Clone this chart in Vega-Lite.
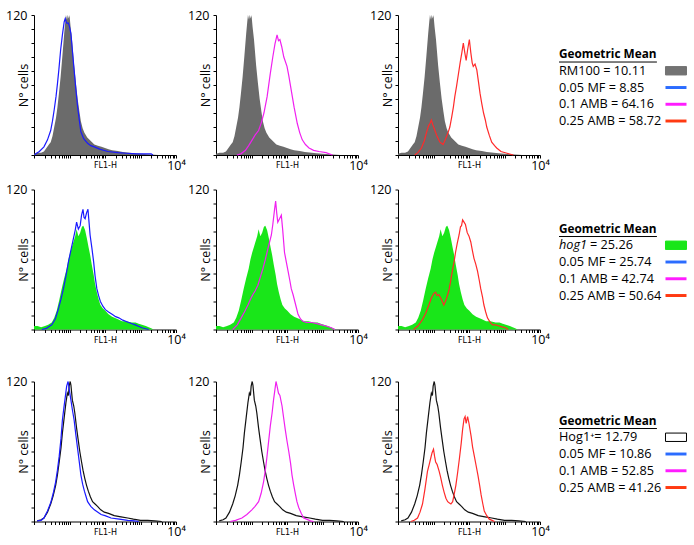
{
"$schema":"https://vega.github.io/schema/vega-lite/v6.json",
"autosize":{"type":"pad"},
"padding":{"left":5,"top":9,"right":0,"bottom":6},
"background":"white",
"config":{"view":{"stroke":null},"axis":{"grid":false,"domainColor":"#000","tickColor":"#000","labelColor":"#000","titleColor":"#000","tickSize":3,"labelFont":"Open Sans","titleFontWeight":"normal"}},
"datasets":{
"rm100":[{"lx":0,"n":1},{"lx":0.1,"n":2},{"lx":0.2,"n":2},{"lx":0.28,"n":3},{"lx":0.35,"n":6},{"lx":0.42,"n":9},{"lx":0.47,"n":11},{"lx":0.52,"n":16},{"lx":0.57,"n":24},{"lx":0.62,"n":32},{"lx":0.66,"n":41},{"lx":0.7,"n":52},{"lx":0.75,"n":67},{"lx":0.8,"n":85},{"lx":0.85,"n":104},{"lx":0.88,"n":114},{"lx":0.9,"n":120},{"lx":0.93,"n":116},{"lx":0.95,"n":120},{"lx":0.98,"n":117},{"lx":1.0,"n":120},{"lx":1.03,"n":110},{"lx":1.07,"n":99},{"lx":1.1,"n":88},{"lx":1.13,"n":77},{"lx":1.18,"n":62},{"lx":1.23,"n":48},{"lx":1.28,"n":37},{"lx":1.32,"n":29},{"lx":1.37,"n":23},{"lx":1.42,"n":19},{"lx":1.5,"n":15},{"lx":1.6,"n":12},{"lx":1.7,"n":9},{"lx":1.8,"n":8},{"lx":1.9,"n":7},{"lx":2.0,"n":6},{"lx":2.1,"n":5},{"lx":2.2,"n":4},{"lx":2.36,"n":3.5},{"lx":2.5,"n":2.5},{"lx":2.7,"n":2},{"lx":2.83,"n":1.5},{"lx":3.0,"n":1},{"lx":3.3,"n":0.5},{"lx":3.5,"n":0}],
"r1mf":[{"lx":0.02,"n":0},{"lx":0.05,"n":1},{"lx":0.15,"n":3},{"lx":0.28,"n":7},{"lx":0.38,"n":13},{"lx":0.47,"n":21},{"lx":0.52,"n":29},{"lx":0.57,"n":39},{"lx":0.62,"n":50},{"lx":0.66,"n":61},{"lx":0.7,"n":73},{"lx":0.75,"n":90},{"lx":0.8,"n":103},{"lx":0.85,"n":114},{"lx":0.88,"n":117},{"lx":0.92,"n":113},{"lx":0.97,"n":113},{"lx":1.0,"n":110},{"lx":1.04,"n":104},{"lx":1.08,"n":90},{"lx":1.13,"n":73},{"lx":1.18,"n":56},{"lx":1.23,"n":41},{"lx":1.28,"n":29},{"lx":1.32,"n":20},{"lx":1.4,"n":14},{"lx":1.51,"n":10},{"lx":1.6,"n":8},{"lx":1.7,"n":7},{"lx":1.85,"n":5},{"lx":2.08,"n":3},{"lx":2.36,"n":2},{"lx":2.6,"n":1.5},{"lx":2.9,"n":1},{"lx":3.1,"n":1},{"lx":3.3,"n":1},{"lx":3.35,"n":0}],
"r1a1":[{"lx":0.59,"n":0},{"lx":0.7,"n":1},{"lx":0.83,"n":4},{"lx":0.92,"n":8},{"lx":1.02,"n":13},{"lx":1.1,"n":17},{"lx":1.2,"n":21},{"lx":1.28,"n":28},{"lx":1.35,"n":36},{"lx":1.44,"n":50},{"lx":1.53,"n":70},{"lx":1.6,"n":84},{"lx":1.66,"n":95},{"lx":1.72,"n":103},{"lx":1.76,"n":98},{"lx":1.8,"n":99},{"lx":1.85,"n":93},{"lx":1.91,"n":84},{"lx":2.0,"n":76},{"lx":2.05,"n":68},{"lx":2.1,"n":59},{"lx":2.15,"n":50},{"lx":2.2,"n":41},{"lx":2.29,"n":27},{"lx":2.36,"n":19},{"lx":2.43,"n":13},{"lx":2.52,"n":9},{"lx":2.62,"n":6},{"lx":2.75,"n":4},{"lx":2.9,"n":3},{"lx":3.1,"n":2},{"lx":3.28,"n":0}],
"r1a25":[{"lx":0.47,"n":0},{"lx":0.56,"n":2},{"lx":0.66,"n":6},{"lx":0.74,"n":12},{"lx":0.8,"n":19},{"lx":0.86,"n":25},{"lx":0.9,"n":27},{"lx":0.94,"n":30},{"lx":0.98,"n":26},{"lx":1.04,"n":21},{"lx":1.1,"n":16},{"lx":1.18,"n":11},{"lx":1.27,"n":9},{"lx":1.33,"n":13},{"lx":1.37,"n":16},{"lx":1.42,"n":20},{"lx":1.46,"n":24},{"lx":1.51,"n":32},{"lx":1.56,"n":41},{"lx":1.6,"n":50},{"lx":1.65,"n":59},{"lx":1.7,"n":69},{"lx":1.75,"n":79},{"lx":1.8,"n":88},{"lx":1.84,"n":96},{"lx":1.88,"n":88},{"lx":1.92,"n":81},{"lx":1.96,"n":90},{"lx":2.01,"n":99},{"lx":2.05,"n":88},{"lx":2.09,"n":79},{"lx":2.12,"n":76},{"lx":2.17,"n":78},{"lx":2.22,"n":73},{"lx":2.27,"n":62},{"lx":2.31,"n":53},{"lx":2.36,"n":44},{"lx":2.41,"n":36},{"lx":2.46,"n":30},{"lx":2.5,"n":24},{"lx":2.57,"n":17},{"lx":2.64,"n":11},{"lx":2.72,"n":8},{"lx":2.78,"n":6},{"lx":2.9,"n":3},{"lx":3.07,"n":1.5},{"lx":3.25,"n":0}],
"hog1":[{"lx":0,"n":3},{"lx":0.1,"n":3},{"lx":0.2,"n":2},{"lx":0.31,"n":3},{"lx":0.4,"n":4},{"lx":0.5,"n":6},{"lx":0.57,"n":10},{"lx":0.64,"n":16},{"lx":0.71,"n":25},{"lx":0.78,"n":35},{"lx":0.85,"n":44},{"lx":0.92,"n":52},{"lx":0.97,"n":60},{"lx":1.02,"n":66},{"lx":1.07,"n":71},{"lx":1.11,"n":75},{"lx":1.16,"n":80},{"lx":1.2,"n":86},{"lx":1.25,"n":80},{"lx":1.3,"n":83},{"lx":1.35,"n":88},{"lx":1.39,"n":89},{"lx":1.44,"n":85},{"lx":1.49,"n":78},{"lx":1.54,"n":70},{"lx":1.58,"n":64},{"lx":1.63,"n":55},{"lx":1.68,"n":47},{"lx":1.72,"n":39},{"lx":1.77,"n":32},{"lx":1.82,"n":26},{"lx":1.87,"n":21},{"lx":1.94,"n":18},{"lx":2.01,"n":16},{"lx":2.1,"n":13},{"lx":2.2,"n":11},{"lx":2.35,"n":9},{"lx":2.48,"n":7},{"lx":2.6,"n":7},{"lx":2.75,"n":6},{"lx":2.86,"n":6},{"lx":2.95,"n":5},{"lx":3.04,"n":4},{"lx":3.15,"n":3},{"lx":3.23,"n":2},{"lx":3.3,"n":1},{"lx":3.37,"n":0}],
"r2mf":[{"lx":0.22,"n":0},{"lx":0.35,"n":1},{"lx":0.5,"n":4},{"lx":0.6,"n":9},{"lx":0.69,"n":18},{"lx":0.76,"n":26},{"lx":0.83,"n":35},{"lx":0.9,"n":46},{"lx":0.97,"n":58},{"lx":1.04,"n":68},{"lx":1.11,"n":78},{"lx":1.16,"n":85},{"lx":1.2,"n":92},{"lx":1.25,"n":86},{"lx":1.3,"n":89},{"lx":1.34,"n":98},{"lx":1.38,"n":103},{"lx":1.41,"n":96},{"lx":1.44,"n":95},{"lx":1.48,"n":100},{"lx":1.52,"n":103},{"lx":1.55,"n":92},{"lx":1.58,"n":81},{"lx":1.63,"n":70},{"lx":1.68,"n":58},{"lx":1.72,"n":46},{"lx":1.77,"n":35},{"lx":1.82,"n":29},{"lx":1.87,"n":24},{"lx":1.94,"n":20},{"lx":2.01,"n":17},{"lx":2.1,"n":15},{"lx":2.2,"n":13},{"lx":2.3,"n":11},{"lx":2.39,"n":10},{"lx":2.5,"n":8},{"lx":2.67,"n":6},{"lx":2.85,"n":4},{"lx":3.04,"n":1.5},{"lx":3.23,"n":0}],
"r2a1":[{"lx":0.47,"n":0},{"lx":0.6,"n":4},{"lx":0.71,"n":10},{"lx":0.8,"n":15},{"lx":0.9,"n":21},{"lx":0.97,"n":26},{"lx":1.04,"n":30},{"lx":1.1,"n":33},{"lx":1.18,"n":38},{"lx":1.25,"n":45},{"lx":1.32,"n":52},{"lx":1.39,"n":60},{"lx":1.46,"n":69},{"lx":1.51,"n":75},{"lx":1.56,"n":81},{"lx":1.6,"n":90},{"lx":1.65,"n":103},{"lx":1.68,"n":110},{"lx":1.71,"n":100},{"lx":1.74,"n":92},{"lx":1.79,"n":95},{"lx":1.84,"n":98},{"lx":1.88,"n":85},{"lx":1.93,"n":66},{"lx":1.98,"n":58},{"lx":2.03,"n":50},{"lx":2.08,"n":42},{"lx":2.12,"n":35},{"lx":2.17,"n":30},{"lx":2.22,"n":24},{"lx":2.27,"n":18},{"lx":2.31,"n":13},{"lx":2.38,"n":9},{"lx":2.45,"n":7},{"lx":2.55,"n":6},{"lx":2.69,"n":6},{"lx":2.85,"n":5},{"lx":2.97,"n":4},{"lx":3.1,"n":3},{"lx":3.25,"n":1.5},{"lx":3.35,"n":0}],
"r2a25":[{"lx":0.44,"n":0},{"lx":0.56,"n":3},{"lx":0.68,"n":8},{"lx":0.78,"n":14},{"lx":0.87,"n":21},{"lx":0.94,"n":27},{"lx":1.01,"n":31},{"lx":1.06,"n":32},{"lx":1.1,"n":29},{"lx":1.15,"n":30},{"lx":1.22,"n":26},{"lx":1.29,"n":21},{"lx":1.35,"n":25},{"lx":1.43,"n":33},{"lx":1.48,"n":41},{"lx":1.53,"n":50},{"lx":1.58,"n":58},{"lx":1.62,"n":66},{"lx":1.67,"n":74},{"lx":1.72,"n":81},{"lx":1.76,"n":88},{"lx":1.79,"n":89},{"lx":1.82,"n":94},{"lx":1.86,"n":92},{"lx":1.9,"n":90},{"lx":1.95,"n":83},{"lx":2.0,"n":80},{"lx":2.05,"n":75},{"lx":2.1,"n":67},{"lx":2.14,"n":61},{"lx":2.19,"n":56},{"lx":2.24,"n":50},{"lx":2.29,"n":42},{"lx":2.33,"n":35},{"lx":2.38,"n":28},{"lx":2.42,"n":21},{"lx":2.47,"n":15},{"lx":2.52,"n":10},{"lx":2.58,"n":7},{"lx":2.66,"n":4},{"lx":2.75,"n":4},{"lx":2.85,"n":3},{"lx":2.95,"n":2},{"lx":3.03,"n":1.5},{"lx":3.1,"n":0}],
"hog1p":[{"lx":0.09,"n":0.5},{"lx":0.2,"n":1.5},{"lx":0.28,"n":3},{"lx":0.38,"n":8},{"lx":0.47,"n":15},{"lx":0.54,"n":22},{"lx":0.61,"n":31},{"lx":0.66,"n":40},{"lx":0.71,"n":51},{"lx":0.76,"n":63},{"lx":0.8,"n":76},{"lx":0.85,"n":89},{"lx":0.9,"n":102},{"lx":0.94,"n":110},{"lx":0.97,"n":108},{"lx":0.99,"n":116},{"lx":1.02,"n":120},{"lx":1.04,"n":117},{"lx":1.08,"n":104},{"lx":1.12,"n":99},{"lx":1.15,"n":93},{"lx":1.2,"n":80},{"lx":1.24,"n":71},{"lx":1.29,"n":60},{"lx":1.34,"n":51},{"lx":1.38,"n":44},{"lx":1.43,"n":37},{"lx":1.48,"n":31},{"lx":1.53,"n":26},{"lx":1.59,"n":21},{"lx":1.65,"n":17},{"lx":1.72,"n":15},{"lx":1.79,"n":13},{"lx":1.88,"n":10},{"lx":1.98,"n":8},{"lx":2.1,"n":7},{"lx":2.26,"n":5},{"lx":2.45,"n":4},{"lx":2.64,"n":3},{"lx":2.8,"n":2},{"lx":3.0,"n":1},{"lx":3.2,"n":1},{"lx":3.4,"n":0.5},{"lx":3.6,"n":0}],
"r3mf":[{"lx":0.09,"n":0.5},{"lx":0.2,"n":1},{"lx":0.28,"n":3},{"lx":0.38,"n":9},{"lx":0.47,"n":16},{"lx":0.54,"n":24},{"lx":0.61,"n":34},{"lx":0.66,"n":44},{"lx":0.71,"n":56},{"lx":0.76,"n":71},{"lx":0.8,"n":87},{"lx":0.84,"n":97},{"lx":0.87,"n":104},{"lx":0.92,"n":116},{"lx":0.96,"n":120},{"lx":1.0,"n":112},{"lx":1.04,"n":104},{"lx":1.08,"n":96},{"lx":1.13,"n":87},{"lx":1.18,"n":74},{"lx":1.23,"n":62},{"lx":1.28,"n":50},{"lx":1.32,"n":40},{"lx":1.37,"n":32},{"lx":1.42,"n":26},{"lx":1.47,"n":21},{"lx":1.51,"n":17},{"lx":1.6,"n":13},{"lx":1.7,"n":10},{"lx":1.8,"n":8},{"lx":1.89,"n":6},{"lx":2.0,"n":5},{"lx":2.17,"n":3},{"lx":2.4,"n":2},{"lx":2.64,"n":1},{"lx":2.83,"n":0.5},{"lx":2.95,"n":0}],
"r3a1":[{"lx":0.4,"n":0},{"lx":0.55,"n":1},{"lx":0.73,"n":3},{"lx":0.87,"n":6},{"lx":1.01,"n":10},{"lx":1.1,"n":13},{"lx":1.2,"n":17},{"lx":1.27,"n":24},{"lx":1.34,"n":34},{"lx":1.39,"n":44},{"lx":1.43,"n":54},{"lx":1.48,"n":68},{"lx":1.53,"n":82},{"lx":1.58,"n":93},{"lx":1.62,"n":104},{"lx":1.66,"n":113},{"lx":1.69,"n":120},{"lx":1.72,"n":116},{"lx":1.76,"n":110},{"lx":1.8,"n":108},{"lx":1.86,"n":99},{"lx":1.9,"n":90},{"lx":1.95,"n":79},{"lx":2.0,"n":69},{"lx":2.05,"n":60},{"lx":2.1,"n":50},{"lx":2.14,"n":40},{"lx":2.19,"n":31},{"lx":2.24,"n":23},{"lx":2.28,"n":17},{"lx":2.33,"n":12},{"lx":2.4,"n":7},{"lx":2.47,"n":3},{"lx":2.55,"n":2},{"lx":2.66,"n":0.5},{"lx":2.75,"n":0}],
"r3a25":[{"lx":0.36,"n":0},{"lx":0.46,"n":1},{"lx":0.55,"n":3},{"lx":0.62,"n":8},{"lx":0.69,"n":15},{"lx":0.76,"n":28},{"lx":0.83,"n":43},{"lx":0.88,"n":49},{"lx":0.92,"n":54},{"lx":0.96,"n":59},{"lx":1.0,"n":62},{"lx":1.03,"n":56},{"lx":1.06,"n":51},{"lx":1.1,"n":49},{"lx":1.16,"n":43},{"lx":1.2,"n":38},{"lx":1.25,"n":31},{"lx":1.3,"n":25},{"lx":1.35,"n":20},{"lx":1.4,"n":17},{"lx":1.44,"n":16},{"lx":1.49,"n":15},{"lx":1.54,"n":17},{"lx":1.58,"n":23},{"lx":1.63,"n":31},{"lx":1.68,"n":42},{"lx":1.73,"n":54},{"lx":1.78,"n":67},{"lx":1.82,"n":79},{"lx":1.86,"n":88},{"lx":1.89,"n":90},{"lx":1.92,"n":84},{"lx":1.96,"n":90},{"lx":2.0,"n":84},{"lx":2.06,"n":73},{"lx":2.1,"n":64},{"lx":2.15,"n":56},{"lx":2.2,"n":48},{"lx":2.25,"n":40},{"lx":2.3,"n":31},{"lx":2.34,"n":23},{"lx":2.39,"n":15},{"lx":2.43,"n":9},{"lx":2.5,"n":5},{"lx":2.57,"n":2},{"lx":2.65,"n":1},{"lx":2.72,"n":0}],
"legend":[
{"row":1,"i":0,"kind":"title","label":"Geometric Mean"},
{"row":1,"i":1,"kind":"item","label":"RM100 = 10.11","series":"RM100","role":"reference"},
{"row":1,"i":2,"kind":"item","label":"0.05 MF = 8.85","series":"0.05 MF","role":"treatment"},
{"row":1,"i":3,"kind":"item","label":"0.1 AMB = 64.16","series":"0.1 AMB","role":"treatment"},
{"row":1,"i":4,"kind":"item","label":"0.25 AMB = 58.72","series":"0.25 AMB","role":"treatment"},
{"row":2,"i":0,"kind":"title","label":"Geometric Mean"},
{"row":2,"i":1,"kind":"italic","label":"hog1","series":"hog1","role":"reference"},
{"row":2,"i":1,"kind":"tail","label":"= 25.26"},
{"row":2,"i":2,"kind":"item","label":"0.05 MF = 25.74","series":"0.05 MF","role":"treatment"},
{"row":2,"i":3,"kind":"item","label":"0.1 AMB = 42.74","series":"0.1 AMB","role":"treatment"},
{"row":2,"i":4,"kind":"item","label":"0.25 AMB = 50.64","series":"0.25 AMB","role":"treatment"},
{"row":3,"i":0,"kind":"title","label":"Geometric Mean"},
{"row":3,"i":1,"kind":"item","label":"Hog1⁺= 12.79","series":"Hog1+","role":"reference"},
{"row":3,"i":2,"kind":"item","label":"0.05 MF = 10.86","series":"0.05 MF","role":"treatment"},
{"row":3,"i":3,"kind":"item","label":"0.1 AMB = 52.85","series":"0.1 AMB","role":"treatment"},
{"row":3,"i":4,"kind":"item","label":"0.25 AMB = 41.26","series":"0.25 AMB","role":"treatment"}
]},
"vconcat":[
{"hconcat":[
 {"hconcat":[
  {"width":142,"height":140,"layer":[
   {"data":{"name":"rm100"},"mark":{"type":"area","color":"#6b6b6b","opacity":1},"encoding":{"x":{"field":"lx","type":"quantitative","title":"FL1-H","scale":{"domain":[0,4],"nice":false,"zero":false},"axis":{"values":[0,0.301,0.477,0.602,0.699,0.778,0.845,0.903,0.954,1,1.301,1.477,1.602,1.699,1.778,1.845,1.903,1.954,2,2.301,2.477,2.602,2.699,2.778,2.845,2.903,2.954,3,3.301,3.477,3.602,3.699,3.778,3.845,3.903,3.954,4],"tickCount":40,"labelExpr":"datum.value == 4 ? '10⁴' : ''","labelBound":false,"labelOverlap":false,"labelFlush":false,"labelFontSize":12.5,"labelPadding":1,"titleFont":"DejaVu Sans","titleFontSize":8,"titleY":12.5,"titleBaseline":"alphabetic"}},"y":{"field":"n","type":"quantitative","title":"N° cells","scale":{"domain":[0,120],"nice":false},"axis":{"values":[0,12,24,36,48,60,72,84,96,108,120],"tickCount":12,"labelExpr":"datum.value == 120 ? '120' : ''","labelBound":false,"labelOverlap":false,"labelFlush":false,"labelFontSize":12.5,"labelPadding":4,"titleFont":"Open Sans","titleFontSize":12.5,"titleX":-7,"titleY":70,"titleAngle":-90,"titleBaseline":"alphabetic","titleAlign":"center"}}}},
   {"data":{"name":"r1mf"},"mark":{"type":"line","color":"#1a1aff","strokeWidth":1.2},"encoding":{"x":{"field":"lx","type":"quantitative","title":"FL1-H"},"y":{"field":"n","type":"quantitative","title":"N° cells"}}}
  ]},
  {"width":142,"height":140,"layer":[
   {"data":{"name":"rm100"},"mark":{"type":"area","color":"#6b6b6b","opacity":1},"encoding":{"x":{"field":"lx","type":"quantitative","title":"FL1-H","scale":{"domain":[0,4],"nice":false,"zero":false},"axis":{"values":[0,0.301,0.477,0.602,0.699,0.778,0.845,0.903,0.954,1,1.301,1.477,1.602,1.699,1.778,1.845,1.903,1.954,2,2.301,2.477,2.602,2.699,2.778,2.845,2.903,2.954,3,3.301,3.477,3.602,3.699,3.778,3.845,3.903,3.954,4],"tickCount":40,"labelExpr":"datum.value == 4 ? '10⁴' : ''","labelBound":false,"labelOverlap":false,"labelFlush":false,"labelFontSize":12.5,"labelPadding":1,"titleFont":"DejaVu Sans","titleFontSize":8,"titleY":12.5,"titleBaseline":"alphabetic"}},"y":{"field":"n","type":"quantitative","title":"N° cells","scale":{"domain":[0,120],"nice":false},"axis":{"values":[0,12,24,36,48,60,72,84,96,108,120],"tickCount":12,"labelExpr":"datum.value == 120 ? '120' : ''","labelBound":false,"labelOverlap":false,"labelFlush":false,"labelFontSize":12.5,"labelPadding":4,"titleFont":"Open Sans","titleFontSize":12.5,"titleX":-7,"titleY":70,"titleAngle":-90,"titleBaseline":"alphabetic","titleAlign":"center"}}}},
   {"data":{"name":"r1a1"},"mark":{"type":"line","color":"#f020f0","strokeWidth":1.2},"encoding":{"x":{"field":"lx","type":"quantitative","title":"FL1-H"},"y":{"field":"n","type":"quantitative","title":"N° cells"}}}
  ]},
  {"width":142,"height":140,"layer":[
   {"data":{"name":"rm100"},"mark":{"type":"area","color":"#6b6b6b","opacity":1},"encoding":{"x":{"field":"lx","type":"quantitative","title":"FL1-H","scale":{"domain":[0,4],"nice":false,"zero":false},"axis":{"values":[0,0.301,0.477,0.602,0.699,0.778,0.845,0.903,0.954,1,1.301,1.477,1.602,1.699,1.778,1.845,1.903,1.954,2,2.301,2.477,2.602,2.699,2.778,2.845,2.903,2.954,3,3.301,3.477,3.602,3.699,3.778,3.845,3.903,3.954,4],"tickCount":40,"labelExpr":"datum.value == 4 ? '10⁴' : ''","labelBound":false,"labelOverlap":false,"labelFlush":false,"labelFontSize":12.5,"labelPadding":1,"titleFont":"DejaVu Sans","titleFontSize":8,"titleY":12.5,"titleBaseline":"alphabetic"}},"y":{"field":"n","type":"quantitative","title":"N° cells","scale":{"domain":[0,120],"nice":false},"axis":{"values":[0,12,24,36,48,60,72,84,96,108,120],"tickCount":12,"labelExpr":"datum.value == 120 ? '120' : ''","labelBound":false,"labelOverlap":false,"labelFlush":false,"labelFontSize":12.5,"labelPadding":4,"titleFont":"Open Sans","titleFontSize":12.5,"titleX":-7,"titleY":70,"titleAngle":-90,"titleBaseline":"alphabetic","titleAlign":"center"}}}},
   {"data":{"name":"r1a25"},"mark":{"type":"line","color":"#ff2a2a","strokeWidth":1.2},"encoding":{"x":{"field":"lx","type":"quantitative","title":"FL1-H"},"y":{"field":"n","type":"quantitative","title":"N° cells"}}}
  ]}
 ],"spacing":40,"bounds":"flush"},
 {"width":128,"height":140,"data":{"name":"legend"},"transform":[{"filter":"datum.row == 1"}],
  "encoding":{"y":{"field":"i","type":"quantitative","scale":{"domain":[-2.33,6.03],"reverse":true,"nice":false,"zero":false},"axis":null}},
  "layer":[
   {"transform":[{"filter":"datum.kind == 'title'"}],"mark":{"type":"text","align":"left","baseline":"middle","font":"Open Sans","fontSize":11.8,"fontWeight":"bold","color":"#000"},"encoding":{"x":{"datum":0,"type":"quantitative","scale":{"domain":[0,1],"nice":false,"zero":false},"axis":null},"text":{"field":"label"}}},
   {"transform":[{"filter":"datum.kind == 'title'"}],"mark":{"type":"rule","color":"#000","strokeWidth":1,"yOffset":8},"encoding":{"x":{"datum":0},"x2":{"datum":0.765}}},
   {"transform":[{"filter":"datum.kind == 'item'"}],"mark":{"type":"text","align":"left","baseline":"middle","font":"Open Sans","fontSize":12.7,"color":"#000"},"encoding":{"x":{"datum":0},"text":{"field":"label"}}},
   {"transform":[{"filter":"datum.role == 'reference'"}],"mark":{"type":"point","shape":"M-1,-0.4H1V0.4H-1Z","size":441,"filled":true,"opacity":1,"strokeWidth":1},"encoding":{"x":{"datum":0.914},"fill":{"field":"series","type":"nominal","scale":{"domain":["RM100","hog1","Hog1+","0.05 MF","0.1 AMB","0.25 AMB"],"range":["#737373","#19e619","#ffffff","#2b6cff","#ff1cff","#ff3a12"]},"legend":null},"stroke":{"field":"series","type":"nominal","scale":{"domain":["RM100","hog1","Hog1+","0.05 MF","0.1 AMB","0.25 AMB"],"range":["#737373","#19e619","#000000","#2b6cff","#ff1cff","#ff3a12"]},"legend":null}}},
   {"transform":[{"filter":"datum.role == 'treatment'"}],"mark":{"type":"point","shape":"M-1,-0.14H1V0.14H-1Z","size":441,"filled":true,"opacity":1,"strokeWidth":0},"encoding":{"x":{"datum":0.914},"fill":{"field":"series","type":"nominal","legend":null}}}
  ]}
],"spacing":8},
{"vconcat":[
{"hconcat":[
 {"hconcat":[
  {"width":142,"height":140,"layer":[
   {"data":{"name":"hog1"},"mark":{"type":"area","color":"#19e619","opacity":1},"encoding":{"x":{"field":"lx","type":"quantitative","title":"FL1-H","scale":{"domain":[0,4],"nice":false,"zero":false},"axis":{"values":[0,0.301,0.477,0.602,0.699,0.778,0.845,0.903,0.954,1,1.301,1.477,1.602,1.699,1.778,1.845,1.903,1.954,2,2.301,2.477,2.602,2.699,2.778,2.845,2.903,2.954,3,3.301,3.477,3.602,3.699,3.778,3.845,3.903,3.954,4],"tickCount":40,"labelExpr":"datum.value == 4 ? '10⁴' : ''","labelBound":false,"labelOverlap":false,"labelFlush":false,"labelFontSize":12.5,"labelPadding":1,"titleFont":"DejaVu Sans","titleFontSize":8,"titleY":12.5,"titleBaseline":"alphabetic"}},"y":{"field":"n","type":"quantitative","title":"N° cells","scale":{"domain":[0,120],"nice":false},"axis":{"values":[0,12,24,36,48,60,72,84,96,108,120],"tickCount":12,"labelExpr":"datum.value == 120 ? '120' : ''","labelBound":false,"labelOverlap":false,"labelFlush":false,"labelFontSize":12.5,"labelPadding":4,"titleFont":"Open Sans","titleFontSize":12.5,"titleX":-7,"titleY":70,"titleAngle":-90,"titleBaseline":"alphabetic","titleAlign":"center"}}}},
   {"data":{"name":"r2mf"},"mark":{"type":"line","color":"#1a1aff","strokeWidth":1.2},"encoding":{"x":{"field":"lx","type":"quantitative","title":"FL1-H"},"y":{"field":"n","type":"quantitative","title":"N° cells"}}}
  ]},
  {"width":142,"height":140,"layer":[
   {"data":{"name":"hog1"},"mark":{"type":"area","color":"#19e619","opacity":1},"encoding":{"x":{"field":"lx","type":"quantitative","title":"FL1-H","scale":{"domain":[0,4],"nice":false,"zero":false},"axis":{"values":[0,0.301,0.477,0.602,0.699,0.778,0.845,0.903,0.954,1,1.301,1.477,1.602,1.699,1.778,1.845,1.903,1.954,2,2.301,2.477,2.602,2.699,2.778,2.845,2.903,2.954,3,3.301,3.477,3.602,3.699,3.778,3.845,3.903,3.954,4],"tickCount":40,"labelExpr":"datum.value == 4 ? '10⁴' : ''","labelBound":false,"labelOverlap":false,"labelFlush":false,"labelFontSize":12.5,"labelPadding":1,"titleFont":"DejaVu Sans","titleFontSize":8,"titleY":12.5,"titleBaseline":"alphabetic"}},"y":{"field":"n","type":"quantitative","title":"N° cells","scale":{"domain":[0,120],"nice":false},"axis":{"values":[0,12,24,36,48,60,72,84,96,108,120],"tickCount":12,"labelExpr":"datum.value == 120 ? '120' : ''","labelBound":false,"labelOverlap":false,"labelFlush":false,"labelFontSize":12.5,"labelPadding":4,"titleFont":"Open Sans","titleFontSize":12.5,"titleX":-7,"titleY":70,"titleAngle":-90,"titleBaseline":"alphabetic","titleAlign":"center"}}}},
   {"data":{"name":"r2a1"},"mark":{"type":"line","color":"#f020f0","strokeWidth":1.2},"encoding":{"x":{"field":"lx","type":"quantitative","title":"FL1-H"},"y":{"field":"n","type":"quantitative","title":"N° cells"}}}
  ]},
  {"width":142,"height":140,"layer":[
   {"data":{"name":"hog1"},"mark":{"type":"area","color":"#19e619","opacity":1},"encoding":{"x":{"field":"lx","type":"quantitative","title":"FL1-H","scale":{"domain":[0,4],"nice":false,"zero":false},"axis":{"values":[0,0.301,0.477,0.602,0.699,0.778,0.845,0.903,0.954,1,1.301,1.477,1.602,1.699,1.778,1.845,1.903,1.954,2,2.301,2.477,2.602,2.699,2.778,2.845,2.903,2.954,3,3.301,3.477,3.602,3.699,3.778,3.845,3.903,3.954,4],"tickCount":40,"labelExpr":"datum.value == 4 ? '10⁴' : ''","labelBound":false,"labelOverlap":false,"labelFlush":false,"labelFontSize":12.5,"labelPadding":1,"titleFont":"DejaVu Sans","titleFontSize":8,"titleY":12.5,"titleBaseline":"alphabetic"}},"y":{"field":"n","type":"quantitative","title":"N° cells","scale":{"domain":[0,120],"nice":false},"axis":{"values":[0,12,24,36,48,60,72,84,96,108,120],"tickCount":12,"labelExpr":"datum.value == 120 ? '120' : ''","labelBound":false,"labelOverlap":false,"labelFlush":false,"labelFontSize":12.5,"labelPadding":4,"titleFont":"Open Sans","titleFontSize":12.5,"titleX":-7,"titleY":70,"titleAngle":-90,"titleBaseline":"alphabetic","titleAlign":"center"}}}},
   {"data":{"name":"r2a25"},"mark":{"type":"line","color":"#ff2a2a","strokeWidth":1.2},"encoding":{"x":{"field":"lx","type":"quantitative","title":"FL1-H"},"y":{"field":"n","type":"quantitative","title":"N° cells"}}}
  ]}
 ],"spacing":40,"bounds":"flush"},
 {"width":128,"height":140,"data":{"name":"legend"},"transform":[{"filter":"datum.row == 2"}],
  "encoding":{"y":{"field":"i","type":"quantitative","scale":{"domain":[-2.33,6.03],"reverse":true,"nice":false,"zero":false},"axis":null}},
  "layer":[
   {"transform":[{"filter":"datum.kind == 'title'"}],"mark":{"type":"text","align":"left","baseline":"middle","font":"Open Sans","fontSize":11.8,"fontWeight":"bold","color":"#000"},"encoding":{"x":{"datum":0,"type":"quantitative","scale":{"domain":[0,1],"nice":false,"zero":false},"axis":null},"text":{"field":"label"}}},
   {"transform":[{"filter":"datum.kind == 'title'"}],"mark":{"type":"rule","color":"#000","strokeWidth":1,"yOffset":8},"encoding":{"x":{"datum":0},"x2":{"datum":0.765}}},
   {"transform":[{"filter":"datum.kind == 'item'"}],"mark":{"type":"text","align":"left","baseline":"middle","font":"Open Sans","fontSize":12.7,"color":"#000"},"encoding":{"x":{"datum":0},"text":{"field":"label"}}},
   {"transform":[{"filter":"datum.kind == 'italic'"}],"mark":{"type":"text","align":"left","baseline":"middle","font":"Open Sans","fontSize":12.7,"fontStyle":"italic","color":"#000"},"encoding":{"x":{"datum":0},"text":{"field":"label"}}},
   {"transform":[{"filter":"datum.kind == 'tail'"}],"mark":{"type":"text","align":"left","baseline":"middle","font":"Open Sans","fontSize":12.7,"color":"#000","dx":31},"encoding":{"x":{"datum":0},"text":{"field":"label"}}},
   {"transform":[{"filter":"datum.role == 'reference'"}],"mark":{"type":"point","shape":"M-1,-0.4H1V0.4H-1Z","size":441,"filled":true,"opacity":1,"strokeWidth":1},"encoding":{"x":{"datum":0.914},"fill":{"field":"series","type":"nominal","legend":null},"stroke":{"field":"series","type":"nominal","legend":null}}},
   {"transform":[{"filter":"datum.role == 'treatment'"}],"mark":{"type":"point","shape":"M-1,-0.14H1V0.14H-1Z","size":441,"filled":true,"opacity":1,"strokeWidth":0},"encoding":{"x":{"datum":0.914},"fill":{"field":"series","type":"nominal","legend":null}}}
  ]}
],"spacing":8},
{"hconcat":[
 {"hconcat":[
  {"width":142,"height":140,"layer":[
   {"data":{"name":"hog1p"},"mark":{"type":"line","color":"#111111","strokeWidth":1.2},"encoding":{"x":{"field":"lx","type":"quantitative","title":"FL1-H","scale":{"domain":[0,4],"nice":false,"zero":false},"axis":{"values":[0,0.301,0.477,0.602,0.699,0.778,0.845,0.903,0.954,1,1.301,1.477,1.602,1.699,1.778,1.845,1.903,1.954,2,2.301,2.477,2.602,2.699,2.778,2.845,2.903,2.954,3,3.301,3.477,3.602,3.699,3.778,3.845,3.903,3.954,4],"tickCount":40,"labelExpr":"datum.value == 4 ? '10⁴' : ''","labelBound":false,"labelOverlap":false,"labelFlush":false,"labelFontSize":12.5,"labelPadding":1,"titleFont":"DejaVu Sans","titleFontSize":8,"titleY":12.5,"titleBaseline":"alphabetic"}},"y":{"field":"n","type":"quantitative","title":"N° cells","scale":{"domain":[0,120],"nice":false},"axis":{"values":[0,12,24,36,48,60,72,84,96,108,120],"tickCount":12,"labelExpr":"datum.value == 120 ? '120' : ''","labelBound":false,"labelOverlap":false,"labelFlush":false,"labelFontSize":12.5,"labelPadding":4,"titleFont":"Open Sans","titleFontSize":12.5,"titleX":-7,"titleY":70,"titleAngle":-90,"titleBaseline":"alphabetic","titleAlign":"center"}}}},
   {"data":{"name":"r3mf"},"mark":{"type":"line","color":"#1a1aff","strokeWidth":1.2},"encoding":{"x":{"field":"lx","type":"quantitative","title":"FL1-H"},"y":{"field":"n","type":"quantitative","title":"N° cells"}}}
  ]},
  {"width":142,"height":140,"layer":[
   {"data":{"name":"hog1p"},"mark":{"type":"line","color":"#111111","strokeWidth":1.2},"encoding":{"x":{"field":"lx","type":"quantitative","title":"FL1-H","scale":{"domain":[0,4],"nice":false,"zero":false},"axis":{"values":[0,0.301,0.477,0.602,0.699,0.778,0.845,0.903,0.954,1,1.301,1.477,1.602,1.699,1.778,1.845,1.903,1.954,2,2.301,2.477,2.602,2.699,2.778,2.845,2.903,2.954,3,3.301,3.477,3.602,3.699,3.778,3.845,3.903,3.954,4],"tickCount":40,"labelExpr":"datum.value == 4 ? '10⁴' : ''","labelBound":false,"labelOverlap":false,"labelFlush":false,"labelFontSize":12.5,"labelPadding":1,"titleFont":"DejaVu Sans","titleFontSize":8,"titleY":12.5,"titleBaseline":"alphabetic"}},"y":{"field":"n","type":"quantitative","title":"N° cells","scale":{"domain":[0,120],"nice":false},"axis":{"values":[0,12,24,36,48,60,72,84,96,108,120],"tickCount":12,"labelExpr":"datum.value == 120 ? '120' : ''","labelBound":false,"labelOverlap":false,"labelFlush":false,"labelFontSize":12.5,"labelPadding":4,"titleFont":"Open Sans","titleFontSize":12.5,"titleX":-7,"titleY":70,"titleAngle":-90,"titleBaseline":"alphabetic","titleAlign":"center"}}}},
   {"data":{"name":"r3a1"},"mark":{"type":"line","color":"#f020f0","strokeWidth":1.2},"encoding":{"x":{"field":"lx","type":"quantitative","title":"FL1-H"},"y":{"field":"n","type":"quantitative","title":"N° cells"}}}
  ]},
  {"width":142,"height":140,"layer":[
   {"data":{"name":"hog1p"},"mark":{"type":"line","color":"#111111","strokeWidth":1.2},"encoding":{"x":{"field":"lx","type":"quantitative","title":"FL1-H","scale":{"domain":[0,4],"nice":false,"zero":false},"axis":{"values":[0,0.301,0.477,0.602,0.699,0.778,0.845,0.903,0.954,1,1.301,1.477,1.602,1.699,1.778,1.845,1.903,1.954,2,2.301,2.477,2.602,2.699,2.778,2.845,2.903,2.954,3,3.301,3.477,3.602,3.699,3.778,3.845,3.903,3.954,4],"tickCount":40,"labelExpr":"datum.value == 4 ? '10⁴' : ''","labelBound":false,"labelOverlap":false,"labelFlush":false,"labelFontSize":12.5,"labelPadding":1,"titleFont":"DejaVu Sans","titleFontSize":8,"titleY":12.5,"titleBaseline":"alphabetic"}},"y":{"field":"n","type":"quantitative","title":"N° cells","scale":{"domain":[0,120],"nice":false},"axis":{"values":[0,12,24,36,48,60,72,84,96,108,120],"tickCount":12,"labelExpr":"datum.value == 120 ? '120' : ''","labelBound":false,"labelOverlap":false,"labelFlush":false,"labelFontSize":12.5,"labelPadding":4,"titleFont":"Open Sans","titleFontSize":12.5,"titleX":-7,"titleY":70,"titleAngle":-90,"titleBaseline":"alphabetic","titleAlign":"center"}}}},
   {"data":{"name":"r3a25"},"mark":{"type":"line","color":"#ff2a2a","strokeWidth":1.2},"encoding":{"x":{"field":"lx","type":"quantitative","title":"FL1-H"},"y":{"field":"n","type":"quantitative","title":"N° cells"}}}
  ]}
 ],"spacing":40,"bounds":"flush"},
 {"width":128,"height":140,"data":{"name":"legend"},"transform":[{"filter":"datum.row == 3"}],
  "encoding":{"y":{"field":"i","type":"quantitative","scale":{"domain":[-2.33,6.03],"reverse":true,"nice":false,"zero":false},"axis":null}},
  "layer":[
   {"transform":[{"filter":"datum.kind == 'title'"}],"mark":{"type":"text","align":"left","baseline":"middle","font":"Open Sans","fontSize":11.8,"fontWeight":"bold","color":"#000"},"encoding":{"x":{"datum":0,"type":"quantitative","scale":{"domain":[0,1],"nice":false,"zero":false},"axis":null},"text":{"field":"label"}}},
   {"transform":[{"filter":"datum.kind == 'title'"}],"mark":{"type":"rule","color":"#000","strokeWidth":1,"yOffset":8},"encoding":{"x":{"datum":0},"x2":{"datum":0.765}}},
   {"transform":[{"filter":"datum.kind == 'item'"}],"mark":{"type":"text","align":"left","baseline":"middle","font":"Open Sans","fontSize":12.7,"color":"#000"},"encoding":{"x":{"datum":0},"text":{"field":"label"}}},
   {"transform":[{"filter":"datum.role == 'reference'"}],"mark":{"type":"point","shape":"M-1,-0.4H1V0.4H-1Z","size":441,"filled":true,"opacity":1,"strokeWidth":1},"encoding":{"x":{"datum":0.914},"fill":{"field":"series","type":"nominal","legend":null},"stroke":{"field":"series","type":"nominal","legend":null}}},
   {"transform":[{"filter":"datum.role == 'treatment'"}],"mark":{"type":"point","shape":"M-1,-0.14H1V0.14H-1Z","size":441,"filled":true,"opacity":1,"strokeWidth":0},"encoding":{"x":{"datum":0.914},"fill":{"field":"series","type":"nominal","legend":null}}}
  ]}
],"spacing":8}
],"spacing":29}
],"spacing":11.5
}
